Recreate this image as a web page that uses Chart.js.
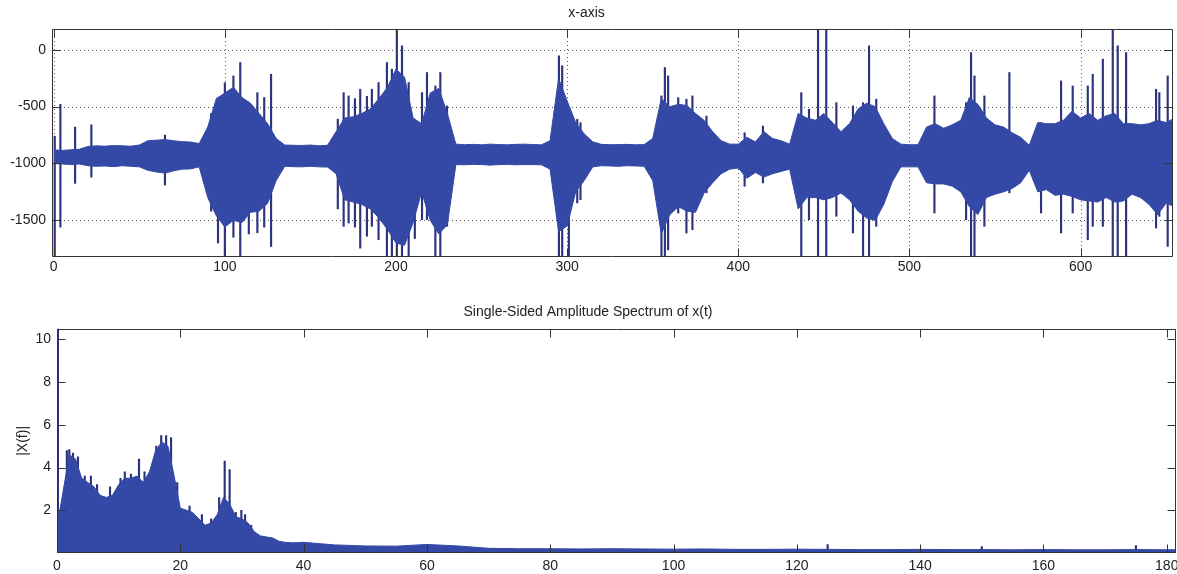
<!DOCTYPE html>
<html>
<head>
<meta charset="utf-8">
<script src="https://cdn.jsdelivr.net/npm/chart.js@4.4.1/dist/chart.umd.min.js"></script>
<style>
  html, body { margin: 0; padding: 0; background: #fff; }
  #wrap { position: relative; width: 1177px; height: 574px; }
  .box { position: absolute; left: 0; width: 1177px; }
</style>
</head>
<body>
<div id="wrap">
  <div class="box" style="top:0;height:290px"><canvas id="sig"></canvas></div>
  <div class="box" style="top:290px;height:284px"><canvas id="spec"></canvas></div>
</div>
<script>
// ─── Top plot: signal envelope, every 5 units ───
const sigX = [0,5,10,15,20,25,30,35,40,45,50,55,60,65,70,75,80,85,90,95,
  100,105,110,115,120,125,130,135,140,145,150,155,160,165,170,175,180,185,190,195,
  200,205,210,215,220,225,230,235,240,245,250,255,260,265,270,275,280,285,290,295,
  300,305,310,315,320,325,330,335,340,345,350,355,360,365,370,375,380,385,390,395,
  400,405,410,415,420,425,430,435,440,445,450,455,460,465,470,475,480,485,490,495,
  500,505,510,515,520,525,530,535,540,545,550,555,560,565,570,575,580,585,590,595,
  600,605,610,615,620,625,630,635,640,645,650,655];
const sigUpper = [-880,-885,-880,-875,-850,-845,-848,-842,-845,-848,-838,-800,-795,-790,-800,-808,-812,-825,-680,-430,
  -380,-330,-420,-470,-560,-650,-780,-838,-840,-842,-838,-845,-840,-720,-600,-590,-560,-520,-430,-330,
  -170,-240,-600,-650,-380,-340,-560,-830,-835,-832,-836,-830,-834,-836,-832,-830,-834,-836,-800,-250,
  -450,-640,-740,-810,-832,-835,-834,-832,-836,-834,-780,-430,-500,-480,-490,-560,-620,-720,-800,-830,
  -830,-770,-810,-720,-780,-800,-830,-560,-600,-620,-560,-640,-720,-650,-520,-470,-500,-650,-780,-830,
  -835,-835,-680,-650,-690,-660,-620,-420,-480,-600,-660,-680,-730,-770,-840,-640,-650,-650,-620,-540,
  -600,-560,-620,-580,-560,-650,-650,-660,-650,-620,-640,-600];
const sigLower = [-1000,-1005,-1010,-1005,-1020,-1025,-1022,-1028,-1020,-1025,-1030,-1060,-1075,-1085,-1065,-1050,-1048,-1030,-1300,-1460,
  -1560,-1500,-1520,-1430,-1420,-1350,-1150,-1025,-1028,-1030,-1025,-1030,-1032,-1090,-1320,-1340,-1360,-1400,-1480,-1580,
  -1700,-1720,-1520,-1250,-1500,-1620,-1540,-1010,-1012,-1008,-1010,-1015,-1010,-1008,-1012,-1010,-1010,-1012,-1050,-1600,
  -1550,-1250,-1150,-1030,-1020,-1022,-1025,-1020,-1022,-1025,-1150,-1620,-1450,-1380,-1420,-1430,-1260,-1170,-1090,-1050,
  -1040,-1130,-1080,-1120,-1090,-1070,-1050,-1400,-1300,-1300,-1320,-1300,-1260,-1320,-1420,-1480,-1500,-1360,-1160,-1030,
  -1030,-1030,-1170,-1180,-1180,-1200,-1250,-1380,-1450,-1300,-1270,-1250,-1220,-1170,-1060,-1250,-1230,-1280,-1270,-1290,
  -1320,-1330,-1340,-1300,-1340,-1330,-1270,-1300,-1360,-1450,-1350,-1380];

// isolated spikes of the signal (position, top, bottom)
const spikeX = [0.6,3.9,12.5,22,65,92,96,100,105,109,114,119,123,127,
  166,169.4,172.3,176,179.1,183,185.9,189.8,194.7,197.6,200.5,203.5,207.4,211,215.2,218.1,223,225.9,229.8,
  295.2,297.1,301,305.9,307.8,355.1,357.1,359,364.9,369.7,373.2,381.4,403.7,414.4,
  436.8,441.3,446.6,451.4,457.3,467,472.9,476.4,480.6,
  514.6,533.1,536,538,543.8,558.4,576.9,588.6,595.4,604.2,607.1,613,618.8,621.7,626.6,644.1,646,650.9];
const spikeHi = [-760,-480,-680,-660,-750,-560,-420,-290,-230,-112,-470,-377,-420,-215,
  -610,-377,-406,-430,-347,-410,-347,-288,-112,-171,250,35,-288,-700,-377,-200,-318,-200,-494,
  -53,-141,-583,-612,-641,-406,-156,-230,-421,-435,-406,-583,-730,-671,
  -377,-524,250,250,-465,-494,-465,35,-435,
  -406,-465,-24,-230,-406,-200,-641,-274,-318,-318,-215,-82,250,35,-24,-347,-377,-230];
const spikeLo = [-1900,-1560,-1175,-1120,-1190,-1420,-1700,-1900,-1650,-1900,-1620,-1610,-1560,-1730,
  -1400,-1553,-1524,-1560,-1745,-1640,-1553,-1671,-1900,-1900,-1900,-1900,-1900,-1660,-1494,-1494,-1900,-1900,-1553,
  -1900,-1900,-1900,-1347,-1318,-1900,-1900,-1760,-1436,-1612,-1583,-1259,-1200,-1171,
  -1900,-1494,-1900,-1900,-1465,-1612,-1900,-1900,-1553,
  -1436,-1494,-1900,-1900,-1553,-1259,-1436,-1612,-1436,-1671,-1553,-1553,-1900,-1900,-1900,-1568,-1465,-1730];

const sigXTicks = [0,100,200,300,400,500,600];
const sigYTicks = [-1500,-1000,-500,0];

// ─── Bottom plot: amplitude spectrum upper edge ───
const specX = [0,1,2,3,4,5,6,7,8,9,10,11,12,13,14,15,16,17,18,19,20,
  21,22,23,24,25,26,27,28,29,30,31,32,33,34,35,36,37,38,39,40,
  45,50,55,60,65,70,75,80,85,90,95,100,105,110,115,120,125,130,135,140,
  145,150,155,160,165,170,175,180,181.5];
const specY = [1.2,2.9,4.6,4.4,3.5,3.3,3.1,2.7,2.6,2.7,3.2,3.5,3.5,3.6,3.3,3.8,4.8,5.2,5.0,3.6,2.1,
  2.0,1.9,1.6,1.3,1.4,1.8,2.6,2.3,1.7,1.6,1.4,1.0,0.8,0.75,0.7,0.55,0.5,0.48,0.48,0.5,
  0.38,0.33,0.32,0.4,0.33,0.22,0.2,0.2,0.19,0.2,0.19,0.18,0.19,0.17,0.17,0.18,0.17,0.16,0.16,0.17,
  0.16,0.16,0.15,0.16,0.15,0.15,0.16,0.15,0.15];
const peakX = [0.15,0.3,1.6,2.0,2.6,3.4,4.5,5.5,6.5,8.6,10.3,11.0,12.0,13.3,14.2,15.3,16.1,16.9,17.7,18.5,
  19.5,21.5,23.5,25.0,26.3,27.2,28.0,29.0,29.9,30.5,31.5,125,150,175];
const peakY = [10.6,1.3,4.8,4.84,4.68,4.5,3.6,3.6,3.2,3.1,3.5,3.8,3.7,4.4,3.8,4.0,5.0,5.5,5.5,5.4,
  3.3,2.2,1.8,1.6,2.6,4.3,3.9,1.9,2.0,1.8,1.3,0.4,0.3,0.35];

const specXTicks = [0,20,40,60,80,100,120,140,160,180];
const specYTicks = [2,4,6,8,10];

// ─── Style ───
const BLUE = 'rgb(52,72,165)';
const SPIKE = 'rgb(44,52,125)';
const FONT = "'Liberation Sans', Arial, sans-serif";
const INK = '#222';

// MATLAB style box: dotted grid under the data, frame and inward ticks on top
const matlabBox = {
  id: 'matlabBox',
  beforeDatasetsDraw(chart, args, o) {
    if (!o.grid) return;
    const { ctx, chartArea: a } = chart;
    const sx = chart.scales.x, sy = chart.scales.y;
    ctx.save();
    ctx.strokeStyle = '#555';
    ctx.lineWidth = 1;
    ctx.setLineDash([1, 3]);
    ctx.beginPath();
    o.xTicks.forEach(v => {
      const p = Math.round(sx.getPixelForValue(v)) + 0.5;
      ctx.moveTo(p, a.top); ctx.lineTo(p, a.bottom);
    });
    o.yTicks.forEach(v => {
      const p = Math.round(sy.getPixelForValue(v)) + 0.5;
      ctx.moveTo(a.left, p); ctx.lineTo(a.right, p);
    });
    ctx.stroke();
    ctx.restore();
  },
  afterDatasetsDraw(chart, args, o) {
    const { ctx, chartArea: a } = chart;
    const sx = chart.scales.x, sy = chart.scales.y;
    const L = Math.round(a.left) + 0.5, R = Math.round(a.right) - 0.5;
    const T = Math.round(a.top) + 0.5, B = Math.round(a.bottom) - 0.5;
    const n = o.tickLen;
    ctx.save();
    ctx.strokeStyle = '#333';
    ctx.lineWidth = 1;
    ctx.beginPath();
    ctx.rect(L, T, R - L, B - T);
    o.xTicks.forEach(v => {
      const p = Math.round(sx.getPixelForValue(v)) + 0.5;
      ctx.moveTo(p, B); ctx.lineTo(p, B - n);
      ctx.moveTo(p, T); ctx.lineTo(p, T + n);
    });
    o.yTicks.forEach(v => {
      const p = Math.round(sy.getPixelForValue(v)) + 0.5;
      ctx.moveTo(L, p); ctx.lineTo(L + n, p);
      ctx.moveTo(R, p); ctx.lineTo(R - n, p);
    });
    ctx.stroke();
    ctx.restore();
  }
};

function axis(min, max, ticks, fitFn, pad) {
  return {
    type: 'linear', min, max, offset: false,
    grid: { display: false, drawTicks: false, offset: false },
    border: { display: false },
    afterBuildTicks: s => { s.ticks = ticks.map(v => ({ value: v })); },
    afterFit: s => { fitFn(s); s.paddingLeft = 0; s.paddingRight = 0; s.paddingTop = 0; s.paddingBottom = 0; },
    ticks: { padding: pad, color: INK, font: { family: FONT, size: 14 }, maxRotation: 0, autoSkip: false,
      callback: v => String(v) }
  };
}

// ─── Signal chart ───
new Chart(document.getElementById('sig'), {
  type: 'line',
  data: {
    datasets: [
      { data: sigX.map((x, i) => ({ x, y: sigLower[i] })), borderColor: BLUE, borderWidth: 1,
        pointRadius: 0, fill: false, tension: 0, clip: 0 },
      { data: sigX.map((x, i) => ({ x, y: sigUpper[i] })), borderColor: BLUE, borderWidth: 1,
        backgroundColor: BLUE, pointRadius: 0, fill: '-1', tension: 0, clip: 0 },
      { type: 'bar', data: spikeX.map((x, i) => ({ x, y: [spikeLo[i], spikeHi[i]] })),
        backgroundColor: SPIKE, borderWidth: 0, barThickness: 1.5, clip: 0 }
    ]
  },
  options: {
    animation: false, responsive: true, maintainAspectRatio: false,
    layout: { padding: { left: 0, right: 4, top: 0, bottom: 0 } },
    plugins: {
      legend: { display: false }, tooltip: { enabled: false },
      title: { display: true, text: 'x-axis', color: INK,
        font: { family: FONT, size: 14, weight: 'normal' }, padding: { top: 4.6, bottom: 7.6 } },
      matlabBox: { grid: true, xTicks: sigXTicks, yTicks: sigYTicks, tickLen: 8 }
    },
    scales: {
      x: axis(-1, 654, sigXTicks, s => { s.height = 33; }, 2),
      y: axis(-1823, 183, sigYTicks, s => { s.width = 52; }, 6)
    }
  },
  plugins: [matlabBox]
});

// ─── Spectrum chart ───
const specYAxis = axis(0, 10.5, specYTicks, s => { s.width = 57; }, 6);
specYAxis.title = { display: true, text: '|X(f)|', color: INK,
  font: { family: FONT, size: 14 }, padding: { top: 14.6, bottom: 0 } };

new Chart(document.getElementById('spec'), {
  type: 'line',
  data: {
    datasets: [
      { data: specX.map((x, i) => ({ x, y: specY[i] })), borderColor: BLUE, borderWidth: 1,
        backgroundColor: BLUE, pointRadius: 0, fill: 'origin', tension: 0, clip: 0 },
      { type: 'bar', data: peakX.map((x, i) => ({ x, y: [0, peakY[i]] })),
        backgroundColor: SPIKE, borderWidth: 0, barThickness: 1.5, clip: 0 }
    ]
  },
  options: {
    animation: false, responsive: true, maintainAspectRatio: false,
    layout: { padding: { left: 0, right: 1, top: 0, bottom: 0 } },
    plugins: {
      legend: { display: false }, tooltip: { enabled: false },
      title: { display: true, text: 'Single-Sided Amplitude Spectrum of x(t)', color: INK,
        font: { family: FONT, size: 14, weight: 'normal' }, padding: { top: 13.6, bottom: 8.3 } },
      matlabBox: { grid: false, xTicks: specXTicks, yTicks: specYTicks, tickLen: 8 }
    },
    scales: {
      x: axis(0, 181.5, specXTicks, s => { s.height = 21; }, 5),
      y: specYAxis
    }
  },
  plugins: [matlabBox]
});
</script>
</body>
</html>
